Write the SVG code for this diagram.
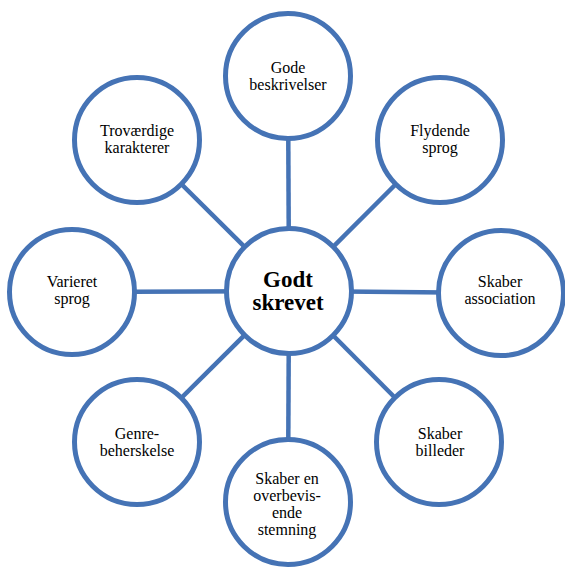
<svg xmlns="http://www.w3.org/2000/svg" width="565" height="568" viewBox="0 0 565 568">
<style>
.c{fill:#fff;stroke:#4573b5;stroke-width:5}
.l{stroke:#4573b5;stroke-width:4.5}
text{font-family:"Liberation Serif","Times New Roman",serif;font-size:16px;fill:#000;text-anchor:middle}
.b{font-weight:bold;font-size:23px}
</style>
<rect width="565" height="568" fill="#fff"/>
<g id="connectors">
<line class="l" x1="289" y1="291" x2="288" y2="76"/>
<line class="l" x1="289" y1="291" x2="137" y2="140"/>
<line class="l" x1="289" y1="291" x2="440" y2="140"/>
<line class="l" x1="289" y1="291" x2="72" y2="292"/>
<line class="l" x1="289" y1="291" x2="501" y2="293"/>
<line class="l" x1="289" y1="291" x2="137" y2="442"/>
<line class="l" x1="289" y1="291" x2="439" y2="442"/>
<line class="l" x1="289" y1="291" x2="288" y2="502"/>
</g>
<g id="center">
<circle class="c" cx="289" cy="291" r="62.5"/>
<text class="b" x="288" y="287">Godt</text>
<text class="b" x="288" y="310">skrevet</text>
</g>
<g id="top">
<circle class="c" cx="288" cy="76" r="62.5"/>
<text x="288" y="73">Gode</text>
<text x="288" y="90">beskrivelser</text>
</g>
<g id="topleft">
<circle class="c" cx="137" cy="140" r="62.5"/>
<text x="137" y="136">Troværdige</text>
<text x="137" y="153">karakterer</text>
</g>
<g id="topright">
<circle class="c" cx="440" cy="140" r="62.5"/>
<text x="440" y="136">Flydende</text>
<text x="440" y="153">sprog</text>
</g>
<g id="left">
<circle class="c" cx="72" cy="292" r="62.5"/>
<text x="72" y="287">Varieret</text>
<text x="72" y="304">sprog</text>
</g>
<g id="right">
<circle class="c" cx="501" cy="293" r="62.5"/>
<text x="500" y="287">Skaber</text>
<text x="500" y="304">association</text>
</g>
<g id="bottomleft">
<circle class="c" cx="137" cy="442" r="62.5"/>
<text x="137" y="439">Genre-</text>
<text x="137" y="456">beherskelse</text>
</g>
<g id="bottomright">
<circle class="c" cx="439" cy="442" r="62.5"/>
<text x="440" y="439">Skaber</text>
<text x="440" y="456">billeder</text>
</g>
<g id="bottom">
<circle class="c" cx="288" cy="502" r="62.5"/>
<text x="287" y="484">Skaber en</text>
<text x="287" y="501">overbevis-</text>
<text x="287" y="518">ende</text>
<text x="287" y="535">stemning</text>
</g>
</svg>
